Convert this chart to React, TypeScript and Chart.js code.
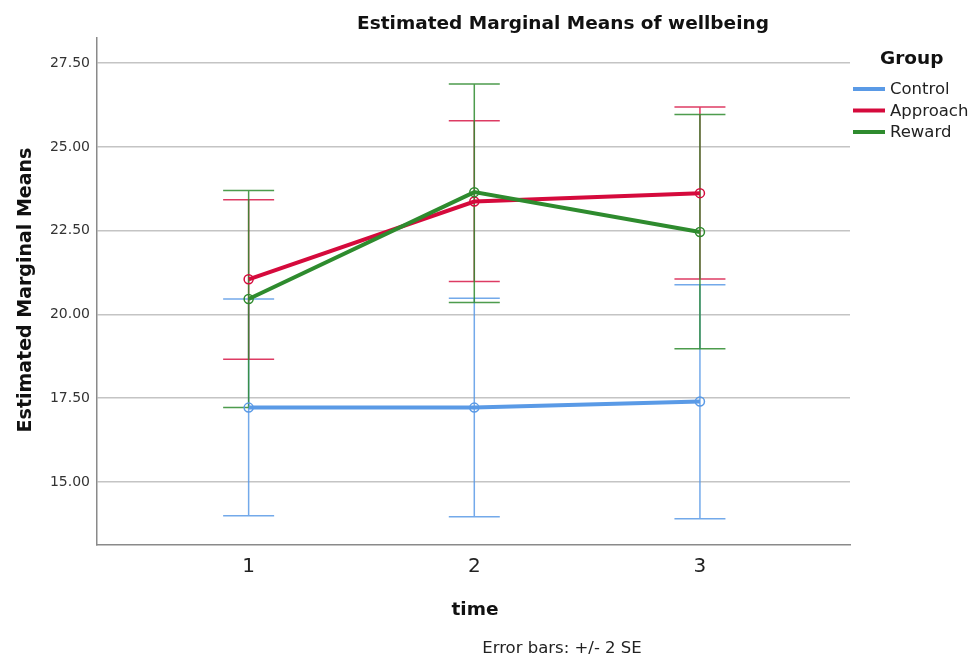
import React, { useEffect, useRef } from "react";
import { Chart, registerables } from "chart.js";

Chart.register(...registerables);

const times = [1, 2, 3];
const yTicks = [15, 17.5, 20, 22.5, 25, 27.5];

const controlMeans = [17.22, 17.22, 17.4];
const controlLower = [13.99, 13.96, 13.9];
const controlUpper = [20.46, 20.48, 20.89];

const approachMeans = [21.05, 23.37, 23.62];
const approachLower = [18.66, 20.98, 21.06];
const approachUpper = [23.42, 25.78, 26.19];

const rewardMeans = [20.46, 23.65, 22.46];
const rewardLower = [17.22, 20.36, 18.98];
const rewardUpper = [23.7, 26.88, 25.97];

const groupNames = ["Control", "Approach", "Reward"];
const groupColors = ["#5A9AE6", "#D50A3C", "#2E8B2E"];
const barColors = ["rgba(90,154,230,0.85)", "rgba(213,10,60,0.8)", "rgba(46,139,46,0.85)"];

const FONT = "'DejaVu Sans', sans-serif";

const errorBarPlugin = {
  id: "errorBars",
  beforeDatasetsDraw(chart: any) {
    const ctx = chart.ctx;
    const xs = chart.scales.x;
    const ys = chart.scales.y;
    const lows = [controlLower, approachLower, rewardLower];
    const highs = [controlUpper, approachUpper, rewardUpper];
    ctx.save();
    ctx.lineWidth = 1.5;
    for (let g = 0; g < 3; g++) {
      ctx.strokeStyle = barColors[g];
      for (let j = 0; j < times.length; j++) {
        const x = xs.getPixelForValue(times[j]);
        const y1 = ys.getPixelForValue(lows[g][j]);
        const y2 = ys.getPixelForValue(highs[g][j]);
        ctx.beginPath();
        ctx.moveTo(x, y1);
        ctx.lineTo(x, y2);
        ctx.moveTo(x - 25.5, y1);
        ctx.lineTo(x + 25.5, y1);
        ctx.moveTo(x - 25.5, y2);
        ctx.lineTo(x + 25.5, y2);
        ctx.stroke();
      }
    }
    ctx.restore();
  },
};

const textPlugin = {
  id: "texts",
  afterDraw(chart: any) {
    const ctx = chart.ctx;
    const area = chart.chartArea;
    ctx.save();
    ctx.fillStyle = "#111";
    // Title
    ctx.font = `bold 18.5px ${FONT}`;
    ctx.textAlign = "center";
    ctx.textBaseline = "alphabetic";
    ctx.fillText("Estimated Marginal Means of wellbeing", 563, 28.5);
    // x axis title
    ctx.fillText("time", 475, 614.5);
    // y axis title
    ctx.save();
    ctx.font = `bold 19px ${FONT}`;
    ctx.translate(31, 290);
    ctx.rotate(-Math.PI / 2);
    ctx.fillText("Estimated Marginal Means", 0, 0);
    ctx.restore();
    // note
    ctx.font = `16.5px ${FONT}`;
    ctx.fillStyle = "#222";
    ctx.fillText("Error bars: +/- 2 SE", 562, 653);
    // legend
    ctx.font = `bold 18.5px ${FONT}`;
    ctx.fillStyle = "#111";
    ctx.textAlign = "left";
    ctx.fillText("Group", 880, 64);
    ctx.font = `16.5px ${FONT}`;
    ctx.textBaseline = "middle";
    for (let g = 0; g < 3; g++) {
      const y = 89 + g * 21.5;
      ctx.strokeStyle = groupColors[g];
      ctx.lineWidth = 4;
      ctx.beginPath();
      ctx.moveTo(853, y);
      ctx.lineTo(885, y);
      ctx.stroke();
      ctx.fillStyle = "#222";
      ctx.fillText(groupNames[g], 890, y + 1);
    }
    ctx.restore();
  },
};

export default function App() {
  const ref = useRef<HTMLCanvasElement | null>(null);
  useEffect(() => {
    if (!ref.current) return;
    const mk = (label: string, data: number[], g: number, order: number) => ({
      label,
      data: times.map((t, i) => ({ x: t, y: data[i] })),
      borderColor: groupColors[g],
      backgroundColor: "rgba(0,0,0,0)",
      borderWidth: 4,
      pointRadius: 4.5,
      pointBorderWidth: 1.5,
      pointBorderColor: groupColors[g],
      pointBackgroundColor: "rgba(0,0,0,0)",
      tension: 0,
      order,
    });
    const chart = new Chart(ref.current, {
      type: "line",
      data: {
        datasets: [
          mk("Control", controlMeans, 0, 2),
          mk("Approach", approachMeans, 1, 1),
          mk("Reward", rewardMeans, 2, 0),
        ],
      },
      options: {
        responsive: false,
        animation: false,
        layout: { padding: { top: 38, right: 125, bottom: 0, left: 0 } },
        plugins: { legend: { display: false }, title: { display: false }, tooltip: { enabled: false } },
        scales: {
          x: {
            type: "linear",
            min: 0.328,
            max: 3.665,
            afterFit: (s: any) => {
              s.height = 113;
            },
            afterBuildTicks: (s: any) => {
              s.ticks = times.map((v) => ({ value: v }));
            },
            grid: { display: false, drawTicks: false },
            border: { display: true, color: "#8a8a8a", width: 1.5 },
            ticks: {
              padding: 10,
              color: "#222",
              font: { family: FONT, size: 20 },
              callback: (v: any) => String(v),
            },
          },
          y: {
            type: "linear",
            min: 13.12,
            max: 28.25,
            afterFit: (s: any) => {
              s.width = 97;
            },
            afterBuildTicks: (s: any) => {
              s.ticks = yTicks.map((v) => ({ value: v }));
            },
            grid: { color: "#c4c4c4", lineWidth: 1.5, drawTicks: false },
            border: { display: true, color: "#8a8a8a", width: 1.5 },
            ticks: {
              padding: 7,
              color: "#333",
              font: { family: FONT, size: 14 },
              callback: (v: any) => Number(v).toFixed(2),
            },
          },
        },
      },
      plugins: [errorBarPlugin, textPlugin],
    } as any);
    return () => chart.destroy();
  }, []);
  return (
    <div style={{ position: "absolute", left: 0, top: 0, width: 975, height: 658, background: "#fff" }}>
      <canvas ref={ref} width={975} height={658} style={{ width: 975, height: 658 }} />
    </div>
  );
}
